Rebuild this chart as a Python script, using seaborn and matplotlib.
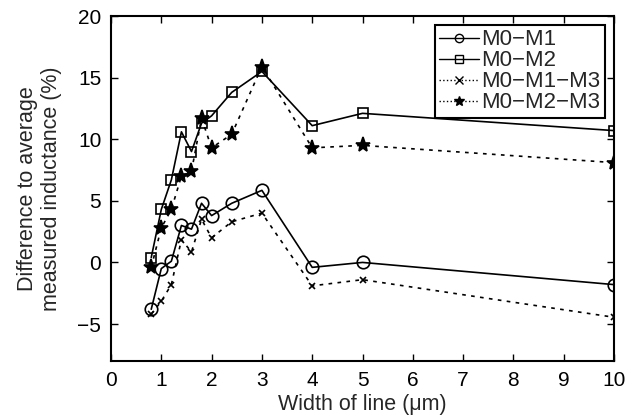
import matplotlib
matplotlib.use("Agg")
import matplotlib.pyplot as plt
import seaborn as sns
import pandas as pd
from matplotlib.lines import Line2D

width = [0.8, 1.0, 1.2, 1.4, 1.6, 1.8, 2.0, 2.4, 3.0, 4.0, 5.0, 10.0]
m0_m1 = [-3.8, -0.5, 0.1, 3.0, 2.7, 4.8, 3.8, 4.8, 5.85, -0.4, 0.0, -1.8]
m0_m2 = [0.4, 4.3, 6.7, 10.6, 9.0, 11.3, 11.9, 13.8, 15.5, 11.1, 12.1, 10.7]
m0_m1_m3 = [-4.2, -3.15, -1.8, 1.85, 0.85, 3.5, 2.0, 3.3, 4.0, -1.9, -1.4, -4.45]
m0_m2_m3 = [-0.4, 2.8, 4.3, 7.0, 7.4, 11.7, 9.3, 10.4, 15.9, 9.3, 9.5, 8.1]
labels = ["M0\u2212M1", "M0\u2212M2", "M0\u2212M1\u2212M3", "M0\u2212M2\u2212M3"]
xticks = list(range(0, 11))
yticks = [-5, 0, 5, 10, 15, 20]

sns.set_theme(style="ticks")
plt.rcParams['font.family'] = ['Liberation Sans', 'DejaVu Sans']

fig = plt.figure(figsize=(6.43, 4.18), dpi=100)
ax = fig.add_axes([111/643, 1-361/418, (614-111)/643, (361-16)/418])

series = [m0_m1, m0_m2, m0_m1_m3, m0_m2_m3]
markers = ["o", "s", "x", "*"]
msizes = [9, 7, 5, 11]
dash = (0, (2.2, 3.2))
lstyles = ["-", "-", dash, dash]

for vals, lab, mk, ms, ls in zip(series, labels, markers, msizes, lstyles):
    df = pd.DataFrame({"w": width, "v": vals})
    sns.lineplot(data=df, x="w", y="v", ax=ax, color="black", lw=1.2,
                 linestyle=ls, marker=mk, markersize=ms,
                 markerfacecolor="none" if mk in ("o", "s") else "black",
                 markeredgecolor="black", markeredgewidth=1.2, label=lab,
                 legend=False)

leg_handles = []
for lab, mk, ls in zip(labels, markers, ["-", "-", ":", ":"]):
    leg_handles.append(Line2D([], [], color="black", lw=1.0, linestyle=ls,
                              marker=mk, markersize=7 if mk == "*" else 6,
                              markerfacecolor="none" if mk in ("o", "s") else "black",
                              markeredgecolor="black", markeredgewidth=1.0))
leg = ax.legend(leg_handles, labels, loc="upper right", fontsize=16,
                frameon=True, fancybox=False, framealpha=1, edgecolor="black",
                handlelength=1.8, handletextpad=0.1, borderpad=0.2,
                labelspacing=0.0, borderaxespad=0.4)
leg.get_frame().set_linewidth(1.5)

ax.set_xlim(0, 10)
ax.set_ylim(-8, 20)
ax.set_xticks(xticks)
ax.set_yticks(yticks)
ax.set_xticklabels([str(t) for t in xticks])
ax.set_yticklabels(["\u22125" if t == -5 else str(t) for t in yticks])
ax.tick_params(direction="in", top=True, right=True, length=5, width=1.0,
               labelsize=15, pad=7, colors="black")
for s in ax.spines.values():
    s.set_visible(True)
    s.set_linewidth(1.5)
    s.set_color("black")
ax.set_xlabel("Width of line (\u03bcm)", fontsize=15.5, labelpad=3)
ax.set_ylabel("Difference to average\nmeasured inductance (%)", fontsize=15.5, labelpad=11)

fig.savefig("out.png", dpi=100)
